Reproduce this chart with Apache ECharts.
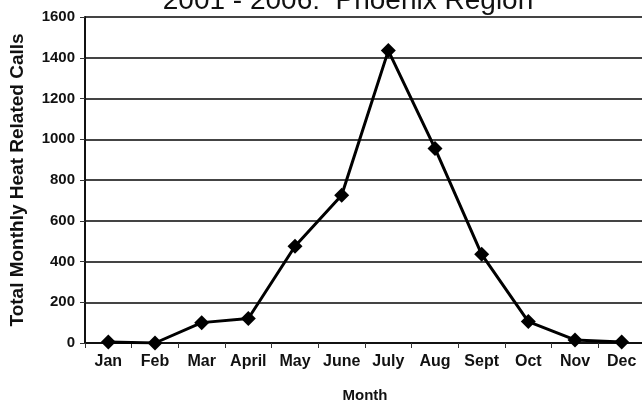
<!DOCTYPE html>
<html>
<head>
<meta charset="utf-8">
<script src="https://cdn.jsdelivr.net/npm/echarts@6/dist/echarts.min.js"></script>
<style>
    html, body {margin: 0; padding: 0; background: #fff;}
    #main {width: 642px; height: 403px;}
</style>
</head>
<body>
<div id="main"></div>
<script>
var months = ['Jan', 'Feb', 'Mar', 'April', 'May', 'June', 'July', 'Aug', 'Sept', 'Oct', 'Nov', 'Dec'];
var calls = [5, 0, 100, 120, 475, 725, 1435, 955, 435, 105, 15, 5];
var yTicks = [0, 1600, 200];

(function () {
    var chart = echarts.init(document.getElementById('main'));
    var font = '"Liberation Sans", Arial, sans-serif';
    var option = {
        animation: false,
        backgroundColor: '#fff',
        title: {
            text: '2001 - 2006:  Phoenix Region',
            left: 343,
            textAlign: 'center',
            top: -18,
            textStyle: {fontFamily: font, fontSize: 28, fontWeight: 'normal', color: '#111'}
        },
        grid: {left: 85, right: -3, top: 17, bottom: 60, outerBoundsMode: 'none', containLabel: false},
        xAxis: {
            type: 'category',
            data: months,
            boundaryGap: true,
            name: 'Month',
            nameLocation: 'middle',
            nameGap: 45,
            nameTextStyle: {fontFamily: font, fontSize: 15, fontWeight: 'bold', color: '#111'},
            axisLine: {lineStyle: {color: '#111', width: 2}},
            axisTick: {show: true, length: 5, lineStyle: {color: '#333', width: 1}},
            axisLabel: {fontFamily: font, fontSize: 16, fontWeight: 'bold', color: '#111', margin: 11, interval: 0}
        },
        yAxis: {
            type: 'value',
            min: yTicks[0],
            max: yTicks[1],
            interval: yTicks[2],
            name: 'Total Monthly Heat Related Calls',
            nameLocation: 'middle',
            nameGap: 58,
            nameTextStyle: {fontFamily: font, fontSize: 19, fontWeight: 'bold', color: '#111'},
            axisLine: {show: true, lineStyle: {color: '#111', width: 2}},
            axisTick: {show: true, length: 5, lineStyle: {color: '#333'}},
            axisLabel: {
                fontFamily: font, fontSize: 15, fontWeight: 'bold', color: '#111', margin: 10,
                formatter: function (v) { return String(v); }
            },
            splitLine: {lineStyle: {color: '#444', width: 2}}
        },
        series: [{
            type: 'line',
            data: calls,
            symbol: 'diamond',
            symbolSize: 15,
            lineStyle: {color: '#000', width: 3},
            itemStyle: {color: '#000'}
        }]
    };
    chart.setOption(option);
})();
</script>
</body>
</html>
